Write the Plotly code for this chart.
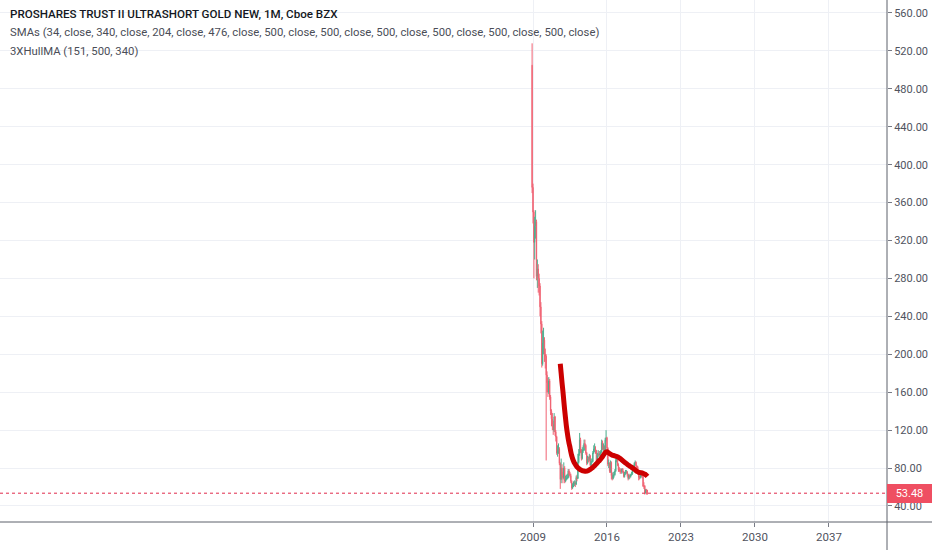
import pandas as pd
import plotly.graph_objects as go

# ---------------- data (monthly, Dec 2008 .. Nov 2019) ----------------
first_open = 505.0
closes = [
    376,                                                          # 2008-12
    350, 318, 335, 340, 282, 290, 280, 272, 250, 232, 190, 212,   # 2009
    215, 200, 198, 178, 170, 160, 172, 155, 140, 132, 126, 120,   # 2010
    134, 118, 113, 96, 98, 100, 85, 68, 80, 72, 70, 80,           # 2011
    66, 68, 70, 70, 77, 74, 72, 66, 59, 62, 63, 64,               # 2012
    63, 70, 69, 86, 95, 110, 98, 90, 99, 99, 106, 104,            # 2013
    96, 85, 90, 89, 93, 83, 87, 87, 96, 100, 100, 98,             # 2014
    86, 93, 95, 94, 95, 97, 107, 100, 103, 98, 110, 112,          # 2015
    101, 84, 85, 77, 86, 72, 69, 73, 73, 77, 88, 90,              # 2016
    83, 78, 78, 76, 76, 79, 76, 71, 74, 76, 76, 73,               # 2017
    69, 72, 71, 73, 74, 79, 82, 85, 86, 82, 81, 74,               # 2018
    70, 70, 72, 73, 71, 61, 61, 54, 57, 54, 53.48,                # 2019
]
highs = [
    528,
    380, 352, 345, 352, 342, 300, 295, 285, 275, 255, 235, 225,
    228, 218, 206, 200, 182, 175, 176, 174, 157, 142, 138, 130,
    138, 135, 120, 114, 104, 106, 102, 86, 90, 84, 76, 86,
    82, 72, 73, 74, 79, 79, 76, 74, 67, 64, 66, 67,
    66, 72, 73, 95, 100, 117, 112, 100, 102, 104, 110, 110,
    105, 97, 93, 92, 95, 94, 90, 90, 98, 104, 106, 103,
    99, 96, 99, 98, 98, 99, 110, 109, 106, 104, 112, 120,
    113, 102, 89, 86, 88, 87, 75, 76, 76, 79, 90, 94,
    91, 85, 81, 80, 79, 80, 80, 77, 76, 78, 78, 77,
    74, 74, 73, 74, 76, 80, 83, 86, 88, 87, 83, 82,
    75, 72, 74, 75, 74, 72, 65, 62, 58, 58, 57,
]
lows = [
    370,
    338, 280, 300, 322, 278, 270, 265, 262, 240, 222, 186, 188,
    200, 192, 185, 88, 160, 155, 158, 152, 136, 124, 120, 115,
    118, 114, 108, 94, 92, 95, 83, 58, 64, 68, 64, 68,
    64, 65, 67, 68, 69, 72, 70, 64, 57, 58, 60, 61,
    60, 62, 66, 70, 85, 93, 96, 88, 89, 96, 98, 101,
    94, 83, 84, 86, 87, 82, 82, 85, 86, 95, 97, 95,
    84, 84, 91, 92, 92, 93, 96, 99, 98, 97, 97, 108,
    99, 82, 80, 75, 75, 68, 67, 68, 70, 72, 76, 86,
    82, 76, 76, 74, 74, 74, 75, 70, 70, 73, 74, 71,
    67, 68, 69, 70, 72, 73, 78, 81, 83, 80, 79, 73,
    67, 68, 69, 70, 69, 60, 58, 52, 53, 52, 52,
]
opens = [first_open] + closes[:-1]

# 3XHullMA, starting Aug 2011
hull_start = "2011-08-01"
hull_vals = [
    190, 180, 170, 161, 151, 141, 132, 124, 117, 111, 106, 102,
    97, 93, 90, 87.5, 85.5, 84, 82.5, 81.3, 80.3, 79.5, 78.8, 78.2,
    77.7, 77.3, 77, 76.8, 76.7, 76.7, 76.8, 77, 77.4, 78, 78.6, 79.3,
    80, 80.8, 81.7, 82.6, 83.5, 84.5, 85.5, 86.5, 87.5, 88.5, 89.6, 90.8,
    92.2, 93.6, 95, 96.2, 97, 97.2, 96.7, 96, 95.3, 94.6, 94.1, 93.7,
    93.4, 93.1, 92.8, 92.5, 92.2, 91.9, 91.4, 90.8, 90.1, 89.3, 88.5, 87.7,
    86.9, 86.1, 85.4, 84.7, 84, 83.3, 82.6, 82, 81.4, 80.8, 80.2, 79.5,
    78.8, 78, 77.2, 76.5, 76, 75.6, 75.3, 75.1, 75, 74.8, 74.5, 74.1,
    73.6, 73, 72.2, 71.2,
]
last_price = 53.48

year_ticks = ["2009", "2016", "2023", "2030", "2037"]
price_ticks = list(range(40, 561, 40))

title_lines = [
    "PROSHARES TRUST II ULTRASHORT GOLD NEW, 1M, Cboe BZX",
    "SMAs (34, close, 340, close, 204, close, 476, close, 500, close, 500, close, 500, close, 500, close, 500, close, 500, close)",
    "3XHullMA (151, 500, 340)",
]

# ---------------- figure ----------------
dates = pd.date_range("2008-12-01", periods=len(closes), freq="MS")
hull_dates = pd.date_range(hull_start, periods=len(hull_vals), freq="MS")

W, H = 932, 550
ML, MR, MT, MB = 0, 45, 0, 28
plot_w = W - ML - MR
plot_h = H - MT - MB
px_per_year = 10.57
x2009_px = 533
days_per_px = 365.25 / px_per_year
x0 = pd.Timestamp("2009-01-01") - pd.Timedelta(days=x2009_px * days_per_px)
x1 = x0 + pd.Timedelta(days=plot_w * days_per_px)

fig = go.Figure()
fig.add_trace(go.Candlestick(
    x=dates, open=opens, high=highs, low=lows, close=closes,
    increasing=dict(line=dict(color="#4caf8f", width=1), fillcolor="#4caf8f"),
    decreasing=dict(line=dict(color="#f06272", width=1), fillcolor="#f06272"),
    whiskerwidth=0, hoverinfo="skip", showlegend=False,
))
fig.add_trace(go.Scatter(
    x=hull_dates, y=hull_vals, mode="lines",
    line=dict(color="#cc0000", width=5, shape="spline"),
    hoverinfo="skip", showlegend=False,
))

grid = "#eef0f5"
fig.update_layout(
    width=W, height=H,
    margin=dict(l=ML, r=MR, t=MT, b=MB),
    paper_bgcolor="white", plot_bgcolor="white",
    font=dict(family="Roboto", color="#50535e", size=11),
    showlegend=False,
    xaxis=dict(
        type="date", range=[x0, x1], rangeslider=dict(visible=False),
        tickvals=[pd.Timestamp(y + "-01-01") for y in year_ticks],
        ticktext=year_ticks,
        showgrid=True, gridcolor=grid, gridwidth=1,
        ticks="outside", ticklen=4, tickcolor="#787b86",
        tickfont=dict(size=11.5, color="#50535e"),
        showline=False, zeroline=False, fixedrange=True,
    ),
    yaxis=dict(
        side="right", range=[23.1, 573.7],
        tickvals=price_ticks, tickformat=".2f",
        showgrid=True, gridcolor=grid, gridwidth=1,
        ticks="outside", ticklen=4, tickcolor="#787b86",
        tickfont=dict(size=11, color="#50535e"),
        showline=False, zeroline=False, fixedrange=True,
    ),
)

# price line and label
fig.add_shape(type="line", xref="paper", yref="y", x0=0, x1=1,
              y0=last_price, y1=last_price,
              line=dict(color="#e0294a", width=1, dash="dot"))
fig.add_annotation(xref="paper", yref="y", x=1, y=last_price,
                   text=f"{last_price:.2f}", showarrow=False,
                   xanchor="left", yanchor="middle", xshift=0,
                   bgcolor="#ef4f62", bordercolor="#ef4f62", borderpad=2,
                   width=39, align="center",
                   font=dict(color="white", size=11, family="Roboto"))

# separators (axis lines extending to the window edges)
fig.add_shape(type="line", xref="paper", yref="paper", x0=1, x1=1,
              y0=-MB / plot_h, y1=1,
              line=dict(color="#5d606b", width=1))
fig.add_shape(type="line", xref="paper", yref="paper", x0=0, x1=W / plot_w,
              y0=0, y1=0, line=dict(color="#5d606b", width=1))

# legend text lines
ys = [14, 33, 51]
sizes = [11.6, 11.3, 11.3]
for i, (txt, yy) in enumerate(zip(title_lines, ys)):
    fig.add_annotation(
        xref="paper", yref="paper", x=8 / plot_w,
        y=1 - yy / plot_h, text=txt, showarrow=False,
        xanchor="left", yanchor="middle",
        font=dict(size=sizes[i], family="Roboto", weight=500 if i == 0 else 400,
                  color="#131722" if i == 0 else "#4a4d57"),
    )

fig.write_html("out.html", config={"displayModeBar": False},
               post_script="document.body.style.margin='0';document.body.style.overflow='hidden';")
